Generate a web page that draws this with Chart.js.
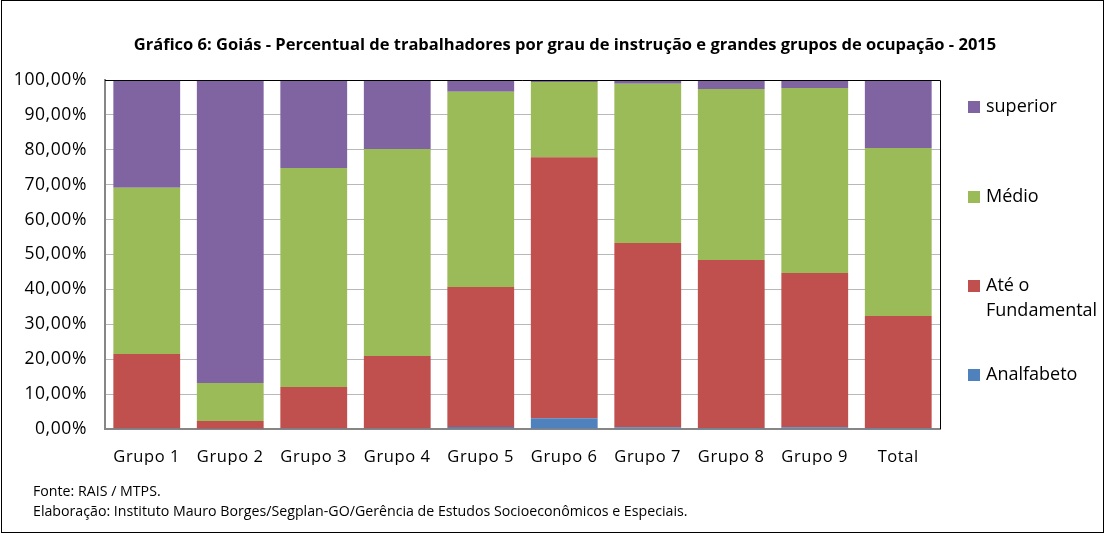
<!DOCTYPE html>
<html>
<head>
<meta charset="utf-8">
<script src="https://cdn.jsdelivr.net/npm/chart.js@4.4.0/dist/chart.umd.min.js"></script>
<style>
  body { margin: 0; background: #fff; font-family: 'Open Sans', sans-serif; }
  #wrap { position: relative; width: 1106px; height: 534px; }
  #frame { position: absolute; left: 1px; top: 0; width: 1101px; height: 531px; border: 1px solid #000; pointer-events: none; }
  #title { position: absolute; left: 0; width: 1130px; top: 32px; text-align: center; font-weight: bold; font-size: 16.5px; color: #000; }
  .foot { position: absolute; left: 33px; font-size: 14.2px; color: #000; }
  .leg { position: absolute; left: 968px; font-size: 18px; color: #000; line-height: 25px; }
  .leg i { position: absolute; left: 0; width: 12px; height: 12px; }
  .leg span { position: absolute; left: 18px; white-space: nowrap; }
</style>
</head>
<body>
<div id="wrap">
  <canvas id="chart" width="1106" height="534"></canvas>
  <div id="title">Gráfico 6: Goiás - Percentual de trabalhadores por grau de instrução e grandes grupos de ocupação - 2015</div>
  <div class="foot" style="top:481px">Fonte: RAIS / MTPS.</div>
  <div class="foot" style="top:501px">Elaboração: Instituto Mauro Borges/Segplan-GO/Gerência de Estudos Socioeconômicos e Especiais.</div>
  <div id="legend"></div>
  <div id="frame"></div>
</div>
<script>
const categories = ['Grupo 1', 'Grupo 2', 'Grupo 3', 'Grupo 4', 'Grupo 5', 'Grupo 6', 'Grupo 7', 'Grupo 8', 'Grupo 9', 'Total'];
const analfabeto = [0.2, 0.1, 0.2, 0.2, 0.6, 3.1, 0.5, 0.3, 0.5, 0.3];
const fundamental = [21.3, 2.2, 11.8, 20.7, 40.1, 74.8, 52.8, 48.1, 44.2, 32.1];
const medio = [47.6, 10.9, 62.8, 59.3, 55.9, 21.5, 45.6, 49.0, 53.0, 48.1];
const superior = [30.9, 86.8, 25.2, 19.8, 3.4, 0.6, 1.1, 2.6, 2.3, 19.5];

const colors = {
  analfabeto: '#4F81BD',
  fundamental: '#C0504D',
  medio: '#9BBB59',
  superior: '#8064A2'
};

// legend, drawn in html so the items can sit spaced like the original
const legendItems = [
  { label: ['superior'], color: colors.superior, top: 93 },
  { label: ['Médio'], color: colors.medio, top: 183 },
  { label: ['Até o', 'Fundamental'], color: colors.fundamental, top: 272 },
  { label: ['Analfabeto'], color: colors.analfabeto, top: 361 }
];
const legendEl = document.getElementById('legend');
legendItems.forEach(it => {
  const d = document.createElement('div');
  d.className = 'leg';
  d.style.top = it.top + 'px';
  d.innerHTML = `<i style="background:${it.color};top:7.5px"></i><span>${it.label.join('<br>')}</span>`;
  legendEl.appendChild(d);
});

const plotBorder = {
  id: 'plotBorder',
  beforeDraw(chart) {
    // a bit of letter spacing, the original font runs wider
    chart.ctx.letterSpacing = '0.6px';
  },
  afterDatasetsDraw(chart) {
    const { ctx, chartArea: a } = chart;
    ctx.save();
    ctx.strokeStyle = '#000';
    ctx.lineWidth = 1;
    ctx.beginPath();
    ctx.moveTo(a.left, a.top + 0.5);
    ctx.lineTo(a.right + 0.5, a.top + 0.5);
    ctx.lineTo(a.right + 0.5, a.bottom);
    ctx.stroke();
    ctx.restore();
  }
};

const ds = (label, data, color) => ({
  label, data,
  backgroundColor: color,
  borderWidth: 0,
  barPercentage: 0.8,
  categoryPercentage: 1
});

new Chart(document.getElementById('chart').getContext('2d'), {
  type: 'bar',
  data: {
    labels: categories,
    datasets: [
      ds('Analfabeto', analfabeto, colors.analfabeto),
      ds('Até o Fundamental', fundamental, colors.fundamental),
      ds('Médio', medio, colors.medio),
      ds('superior', superior, colors.superior)
    ]
  },
  options: {
    responsive: false,
    animation: false,
    layout: { padding: { left: 0, right: 166, top: 80, bottom: 69 } },
    plugins: {
      legend: { display: false },
      tooltip: { enabled: false }
    },
    scales: {
      x: {
        stacked: true,
        grid: { display: false, drawTicks: false },
        border: { color: '#868686', width: 2 },
        ticks: { color: '#000', font: { family: 'Open Sans', size: 16.5 }, padding: 18 },
        afterFit(scale) { scale.height = 36; }
      },
      y: {
        stacked: true,
        min: 0,
        max: 100,
        grid: { color: '#b8b8b8', lineWidth: 1, drawTicks: false },
        border: { color: '#868686', width: 2 },
        ticks: {
          stepSize: 10,
          color: '#000',
          font: { family: 'Open Sans', size: 17.5 },
          padding: 18,
          callback: v => v.toFixed(2).replace('.', ',') + '%'
        },
        afterFit(scale) { scale.width = 105; }
      }
    }
  },
  plugins: [plotBorder]
});
</script>
</body>
</html>
